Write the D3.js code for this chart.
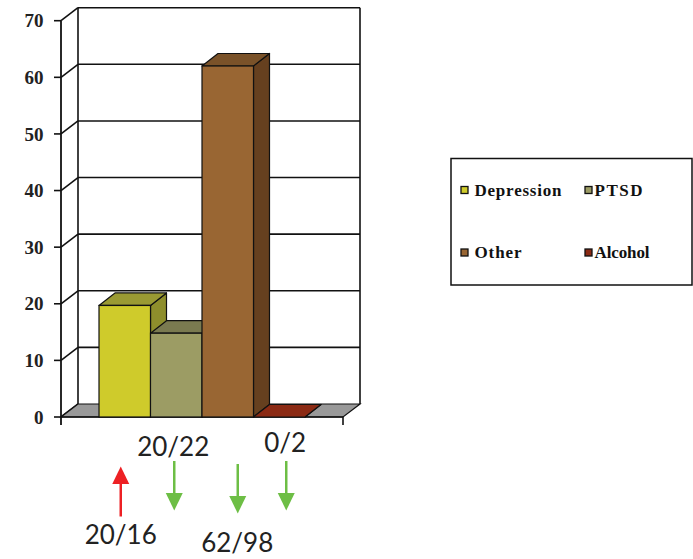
<!DOCTYPE html>
<html>
<head>
<meta charset="utf-8">
<script src="https://cdn.jsdelivr.net/npm/d3@7"></script>
<style>
html,body{margin:0;padding:0;background:#fff;}
svg{display:block;}
</style>
</head>
<body>
<svg id="chart" width="693" height="559"></svg>
<script>
// ---- data ----
const seriesNames = ["Depression", "PTSD", "Other", "Alcohol"];
const seriesValues = [19.7, 14.8, 62, 0];
const frontColors = ["#CFCB2B", "#9C9C64", "#996633", "#8B2A14"];
const topColors = ["#9A9A33", "#7A7A50", "#7A5229", "#7B2410"];
const sideColors = ["#8E8E2C", "#6C6C46", "#66401F", "#6A1F0D"];
const yTicks = [0, 10, 20, 30, 40, 50, 60, 70];
const annotationLabels = ["20/16", "20/22", "62/98", "0/2"];
const annotationDirections = ["up", "down", "down", "down"];
const annotationLabelSide = ["below", "above", "below", "above"];

const svg = d3.select("#chart");

const x0 = d3.scaleBand().domain(["group"]).range([61, 343]).paddingOuter(0.1845).paddingInner(0);
const x1 = d3.scaleBand().domain(seriesNames).range([0, x0.bandwidth()]);
const y = d3.scaleLinear().domain([0, 70]).range([417, 20.7]);

const wdx = 17, wdy = -13; // wall depth
const bdx = 16, bdy = -12.5; // bar depth

const g = svg.append("g");

// back wall
const bx0 = x0.range()[0] + wdx, bx1 = x0.range()[1] + wdx;
g.append("rect").attr("x", bx0).attr("y", y(70) + wdy).attr("width", bx1 - bx0).attr("height", y(0) - y(70)).attr("fill", "#fff");

// gridlines on back wall + diagonals on left wall
yTicks.forEach(v => {
  if (v > 0) {
    g.append("line").attr("x1", bx0).attr("x2", bx1).attr("y1", y(v) + wdy).attr("y2", y(v) + wdy)
      .attr("stroke", "#111").attr("stroke-width", 1.6);
  }
  g.append("line").attr("x1", x0.range()[0]).attr("x2", bx0).attr("y1", y(v)).attr("y2", y(v) + wdy)
    .attr("stroke", "#111").attr("stroke-width", 1.6);
});
// back wall verticals
g.append("line").attr("x1", bx0).attr("x2", bx0).attr("y1", y(70) + wdy).attr("y2", y(0) + wdy).attr("stroke", "#111").attr("stroke-width", 1.6);
g.append("line").attr("x1", bx1).attr("x2", bx1).attr("y1", y(70) + wdy).attr("y2", y(0) + wdy).attr("stroke", "#111").attr("stroke-width", 1.6);

// floor
const fx0 = x0.range()[0], fx1 = x0.range()[1];
g.append("polygon")
  .attr("points", [[fx0, y(0)], [fx1, y(0)], [fx1 + wdx, y(0) + wdy], [fx0 + wdx, y(0) + wdy]].map(p => p.join(",")).join(" "))
  .attr("fill", "#999").attr("stroke", "#111").attr("stroke-width", 1.2);

// y axis (front)
g.append("line").attr("x1", fx0).attr("x2", fx0).attr("y1", y(70)).attr("y2", y(0) + 8).attr("stroke", "#111").attr("stroke-width", 1.8);
g.append("line").attr("x1", fx0).attr("x2", fx1).attr("y1", y(0)).attr("y2", y(0)).attr("stroke", "#111").attr("stroke-width", 1.6);
g.append("line").attr("x1", fx1).attr("x2", fx1).attr("y1", y(0)).attr("y2", y(0) + 8).attr("stroke", "#111").attr("stroke-width", 1.6);
yTicks.forEach(v => {
  g.append("line").attr("x1", fx0 - 7).attr("x2", fx0).attr("y1", y(v)).attr("y2", y(v)).attr("stroke", "#111").attr("stroke-width", 1.6);
  g.append("text").attr("x", 43.5).attr("y", y(v)).attr("dy", "0.35em").attr("text-anchor", "end")
    .attr("font-family", "Liberation Serif, serif").attr("font-weight", "bold").attr("font-size", 19)
    .attr("fill", "#222").text(v);
});

// bars
seriesNames.forEach((name, i) => {
  const xl = x0("group") + x1(name), xr = xl + x1.bandwidth();
  const yt = y(seriesValues[i]), yb = y(0);
  const bar = g.append("g");
  // side
  bar.append("polygon")
    .attr("points", [[xr, yt], [xr + bdx, yt + bdy], [xr + bdx, yb + bdy], [xr, yb]].map(p => p.join(",")).join(" "))
    .attr("fill", sideColors[i]).attr("stroke", "#111").attr("stroke-width", 1.2).attr("stroke-linejoin", "round");
  // top
  bar.append("polygon")
    .attr("points", [[xl, yt], [xr, yt], [xr + bdx, yt + bdy], [xl + bdx, yt + bdy]].map(p => p.join(",")).join(" "))
    .attr("fill", i === 3 ? frontColors[i] : topColors[i]).attr("stroke", "#111").attr("stroke-width", 1.2).attr("stroke-linejoin", "round");
  // front
  if (yb - yt > 0.5) {
    bar.append("rect").attr("x", xl).attr("y", yt).attr("width", xr - xl).attr("height", yb - yt)
      .attr("fill", frontColors[i]).attr("stroke", "#111").attr("stroke-width", 1.2);
  }
});

// legend
const lg = svg.append("g");
lg.append("rect").attr("x", 451).attr("y", 158.5).attr("width", 241).attr("height", 126.5)
  .attr("fill", "#fff").attr("stroke", "#111").attr("stroke-width", 1.5);
const legCols = [461, 585], legRows = [190, 252.5];
const legTextX = [474.5, 594.5];
const legTextLen = [87, 48, 47, 55];
seriesNames.forEach((name, i) => {
  const cx = legCols[i % 2], cy = legRows[Math.floor(i / 2)];
  lg.append("rect").attr("x", cx).attr("y", cy - 3.5).attr("width", 7).attr("height", 7)
    .attr("fill", frontColors[i]).attr("stroke", "#111").attr("stroke-width", 1.3);
  lg.append("text").attr("x", legTextX[i % 2]).attr("y", cy + 5.8)
    .attr("font-family", "Liberation Serif, serif").attr("font-weight", "bold").attr("font-size", 17)
    .attr("textLength", legTextLen[i]).attr("lengthAdjust", "spacing")
    .attr("fill", "#111").text(name);
});

// annotations
const ann = svg.append("g");
const arrowOffsets = [-4, -2, 10, 7];
seriesNames.forEach((name, i) => {
  const cx = x0("group") + x1(name) + x1.bandwidth() / 2 + arrowOffsets[i];
  const color = annotationDirections[i] === "up" ? "#ED2024" : "#6DBE45";
  let tail, base, tip;
  if (annotationDirections[i] === "up") { tail = 516.5; base = 484; tip = 466.5; }
  else { tail = 461 + (i === 2 ? 3 : 0); base = 493 + (i === 2 ? 3 : 0); tip = 510.5 + (i === 2 ? 3 : 0); }
  ann.append("line").attr("x1", cx).attr("x2", cx).attr("y1", tail).attr("y2", base)
    .attr("stroke", color).attr("stroke-width", 2.5);
  ann.append("polygon")
    .attr("points", [[cx - 8.5, base], [cx + 8.5, base], [cx, tip]].map(p => p.join(",")).join(" "))
    .attr("fill", color);
  let ty;
  if (annotationLabelSide[i] === "below") ty = annotationDirections[i] === "up" ? 543.5 : 551.5;
  else ty = i === 1 ? 456 : 451.5;
  const tx = i === 2 ? cx - 0.5 : (i === 0 ? cx : (i === 1 ? cx - 1 : cx - 1));
  ann.append("text").attr("x", tx).attr("y", ty).attr("text-anchor", "middle")
    .attr("font-family", "Lato, 'Open Sans', sans-serif").attr("font-size", 26)
    .attr("fill", "#222").text(annotationLabels[i]);
});
</script>
</body>
</html>
